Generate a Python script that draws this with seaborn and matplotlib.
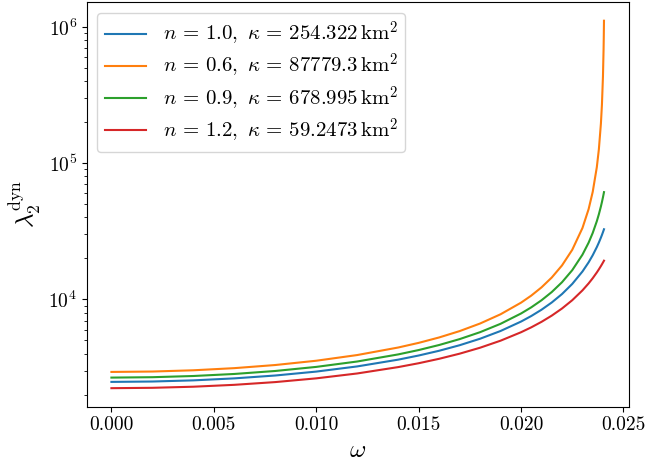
import matplotlib
matplotlib.use("Agg")
import matplotlib.pyplot as plt
import seaborn as sns
import pandas as pd

# Frequency grid (omega) shared by all four stellar models
omega = [0.0, 0.002, 0.004, 0.006, 0.008, 0.010, 0.012, 0.014, 0.015, 0.016,
         0.017, 0.018, 0.019, 0.020, 0.0205, 0.021, 0.0215, 0.022, 0.0225,
         0.023, 0.0233, 0.0235, 0.0237, 0.0238, 0.0239, 0.02395, 0.0240,
         0.02403, 0.02404, 0.02405]

# Dynamical tidal deformability lambda_2^dyn for each polytrope
lam_n10 = [2483, 2499, 2548, 2635, 2766, 2955, 3225, 3615, 3877, 4201,
           4613, 5148, 5867, 6880, 7557, 8405, 9497, 10952, 12989,
           16038, 18720, 21101, 24203, 26137, 28417, 29717, 31144,
           32071, 32393, 32720]
lam_n06 = [2938, 2958, 3021, 3132, 3302, 3550, 3908, 4438, 4800, 5260,
           5856, 6657, 7782, 9469, 10670, 12263, 14478, 17760, 23122,
           33448, 45989, 61534, 93361, 126214, 195177, 268876, 432445,
           681826, 844000, 1108700]
lam_n09 = [2670, 2688, 2743, 2839, 2986, 3199, 3504, 3950, 4252, 4630,
           5114, 5751, 6624, 7886, 8751, 9860, 11330, 13371, 16391,
           21312, 26096, 30747, 37486, 42132, 48120, 51816, 56134,
           59093, 60153, 61250]
lam_n12 = [2233, 2247, 2289, 2363, 2475, 2636, 2863, 3188, 3403, 3668,
           3999, 4423, 4981, 5745, 6242, 6849, 7607, 8578, 9867,
           11658, 13111, 14313, 15771, 16623, 17577, 18098, 18652,
           19002, 19121, 19242]

labels = [
    r"$n\,=\,1.0,\ \kappa\,=\,254.322\,\mathrm{km}^2$",
    r"$n\,=\,0.6,\ \kappa\,=\,87779.3\,\mathrm{km}^2$",
    r"$n\,=\,0.9,\ \kappa\,=\,678.995\,\mathrm{km}^2$",
    r"$n\,=\,1.2,\ \kappa\,=\,59.2473\,\mathrm{km}^2$",
]
series = [lam_n10, lam_n06, lam_n09, lam_n12]
colors = sns.color_palette("tab10")[:4]

plt.rcParams.update({
    "font.family": "serif",
    "font.serif": ["cmr10"],
    "mathtext.fontset": "cm",
    "axes.formatter.use_mathtext": True,
    "axes.unicode_minus": False,
})

fig, ax = plt.subplots(figsize=(6.48, 4.70), dpi=100)
fig.subplots_adjust(left=0.134, right=0.970, top=0.995, bottom=0.135)

for lab, vals, col in zip(labels, series, colors):
    df = pd.DataFrame({"omega": omega, "lam": vals})
    sns.lineplot(data=df, x="omega", y="lam", color=col, label=lab,
                 linewidth=1.5, ax=ax)

ax.set_yscale("log")
ax.set_xlabel(r"$\omega$", fontsize=18)
ax.set_ylabel(r"$\lambda_2^{\mathrm{dyn}}$", fontsize=18)
ax.tick_params(axis="both", which="major", labelsize=14)
ax.set_xticks([0.0, 0.005, 0.010, 0.015, 0.020, 0.025])
ax.set_xticklabels(["0.000", "0.005", "0.010", "0.015", "0.020", "0.025"])
ax.set_xlim(-0.0012, 0.02525)
ax.legend(loc="upper left", fontsize=15, labelspacing=0.2, borderpad=0.35)

fig.savefig("out.png", dpi=100)
